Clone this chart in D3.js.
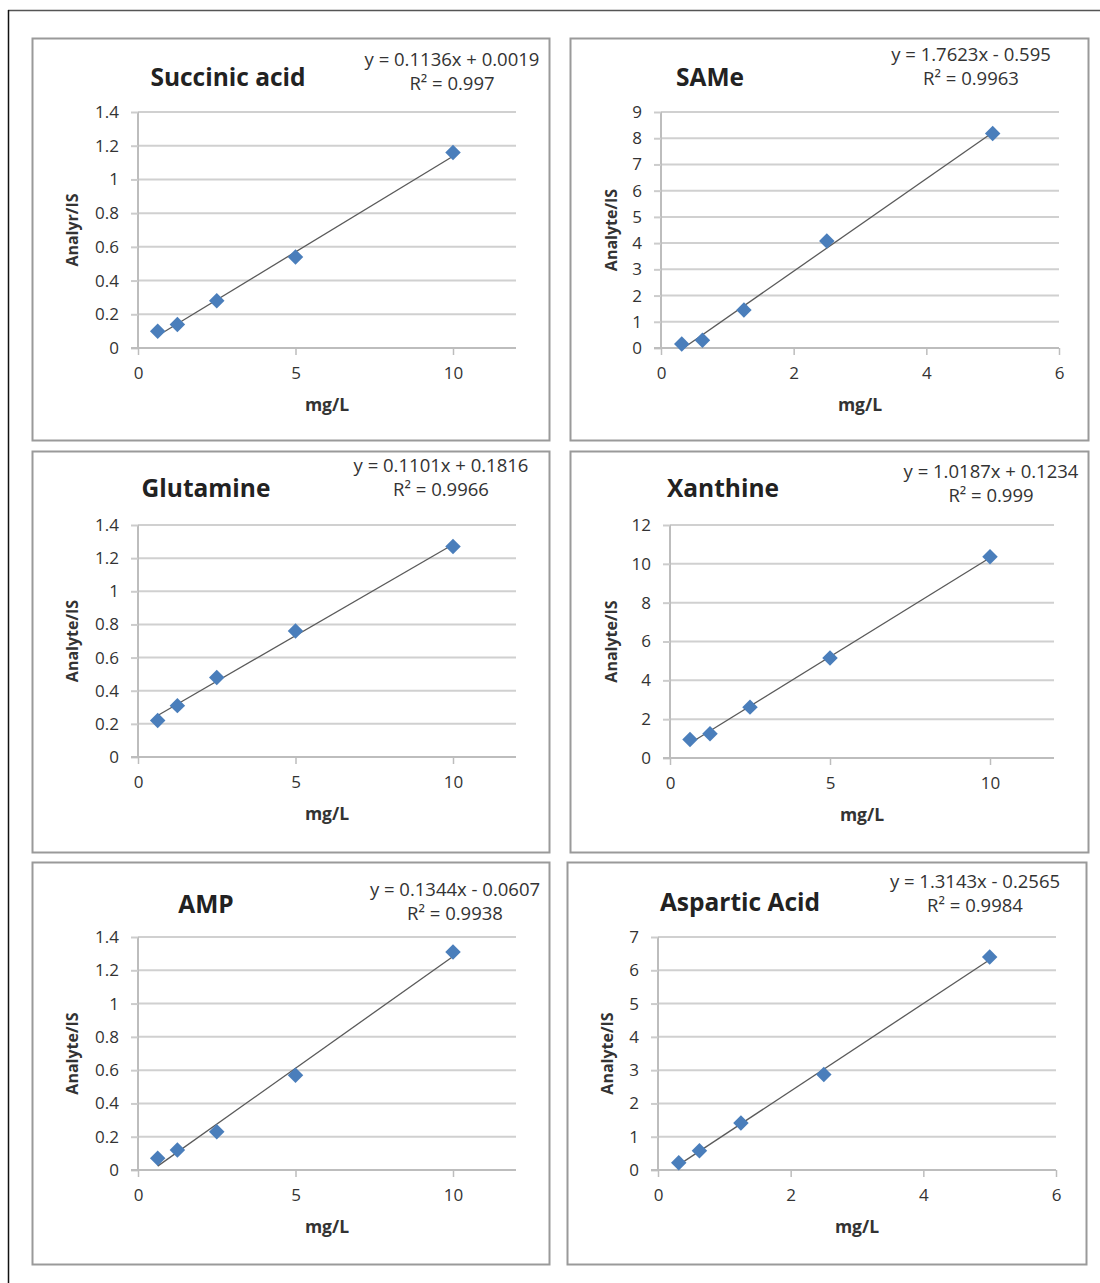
<!DOCTYPE html>
<html>
<head>
<meta charset="utf-8">
<script src="https://cdn.jsdelivr.net/npm/d3@7"></script>
<style>
  html, body { margin: 0; padding: 0; background: #fff; }
  svg { display: block; font-family: "Open Sans", Lato, sans-serif; }
</style>
</head>
<body>
<svg id="chart" width="1100" height="1283"></svg>
<script>
// Calibration curves: analyte / internal-standard ratio versus concentration (mg/L)
const titles = ["Succinic acid", "SAMe", "Glutamine", "Xanthine", "AMP", "Aspartic Acid"];
const yAxisTitles = ["Analyr/IS", "Analyte/IS", "Analyte/IS", "Analyte/IS", "Analyte/IS", "Analyte/IS"];
const xAxisTitle = "mg/L";

// concentration levels
const concHigh = [0.625, 1.25, 2.5, 5, 10];
const concLow = [0.3125, 0.625, 1.25, 2.5, 5];

// measured response ratios
const succinicRatio = [0.10, 0.14, 0.28, 0.54, 1.16];
const sameRatio = [0.15, 0.30, 1.45, 4.08, 8.18];
const glutamineRatio = [0.22, 0.31, 0.48, 0.76, 1.27];
const xanthineRatio = [0.95, 1.25, 2.62, 5.15, 10.36];
const ampRatio = [0.07, 0.12, 0.23, 0.57, 1.31];
const asparticRatio = [0.22, 0.58, 1.41, 2.87, 6.40];

// least-squares fits
const slopes = [0.1136, 1.7623, 0.1101, 1.0187, 0.1344, 1.3143];
const intercepts = [0.0019, -0.595, 0.1816, 0.1234, -0.0607, -0.2565];
const r2Values = ["0.997", "0.9963", "0.9966", "0.999", "0.9938", "0.9984"];

// axis extents and tick steps
const xMax = [12, 6, 12, 12, 12, 6];
const xTickValues = [[0, 5, 10], [0, 2, 4, 6], [0, 5, 10], [0, 5, 10], [0, 5, 10], [0, 2, 4, 6]];
const yMax = [1.4, 9, 1.4, 12, 1.4, 7];
const yStep = [0.2, 1, 0.2, 2, 0.2, 1];

const concentrations = [concHigh, concLow, concHigh, concHigh, concHigh, concLow];
const ratios = [succinicRatio, sameRatio, glutamineRatio, xanthineRatio, ampRatio, asparticRatio];

// panel frames and plot-area placement (page pixels)
const layout = [
  { box: [32, 38, 549, 440],  plot: [138, 112, 516, 348],  title: [228, 86],  eq: [452, 66],  yt: 72 },
  { box: [570, 38, 1088, 440], plot: [661, 112, 1059, 348], title: [710, 86],  eq: [971, 61],  yt: 611 },
  { box: [32, 451, 549, 852], plot: [138, 525, 516, 757],  title: [206, 497], eq: [441, 472], yt: 72 },
  { box: [570, 451, 1088, 852], plot: [670, 525, 1054, 758], title: [723, 497], eq: [991, 478], yt: 611 },
  { box: [32, 862, 549, 1264], plot: [138, 937, 516, 1170], title: [206, 913], eq: [455, 896], yt: 72 },
  { box: [567, 862, 1086, 1264], plot: [658, 937, 1056, 1170], title: [740, 911], eq: [975, 888], yt: 607 }
];

const svg = d3.select("#chart");

// page frame
svg.append("line").attr("x1", 8).attr("y1", 10.5).attr("x2", 1100).attr("y2", 10.5)
  .attr("stroke", "#555").attr("stroke-width", 1.5);
svg.append("line").attr("x1", 8.5).attr("y1", 10).attr("x2", 8.5).attr("y2", 1283)
  .attr("stroke", "#111").attr("stroke-width", 1.5);

const fmtEq = (m, b) => {
  const sign = b < 0 ? " - " : " + ";
  return "y = " + String(m) + "x" + sign + String(Math.abs(b));
};

const tickFont = 17;

titles.forEach((title, i) => {
  const L = layout[i];
  const [bx0, by0, bx1, by1] = L.box;
  const [px0, py0, px1, py1] = L.plot;
  const g = svg.append("g");

  // chart frame
  g.append("rect")
    .attr("x", bx0 + 0.5).attr("y", by0 + 0.5)
    .attr("width", bx1 - bx0).attr("height", by1 - by0)
    .attr("fill", "#fff").attr("stroke", "#9a9a9a").attr("stroke-width", 2);

  const x = d3.scaleLinear().domain([0, xMax[i]]).range([px0, px1]);
  const y = d3.scaleLinear().domain([0, yMax[i]]).range([py1, py0]);
  const yTicks = d3.range(0, yMax[i] + yStep[i] / 2, yStep[i]).map(v => +v.toFixed(3));

  // horizontal gridlines
  g.append("g").selectAll("line").data(yTicks.filter(v => v > 0)).join("line")
    .attr("x1", px0).attr("x2", px1)
    .attr("y1", d => y(d)).attr("y2", d => y(d))
    .attr("stroke", "#d0d0d0").attr("stroke-width", 2);

  // y axis
  const yAxis = g.append("g").attr("transform", `translate(${px0},0)`)
    .call(d3.axisLeft(y).tickValues(yTicks).tickSize(7).tickPadding(12)
      .tickFormat(d3.format("~g")));
  yAxis.select(".domain").attr("stroke", "#bdbdbd").attr("stroke-width", 2)
    .attr("d", `M0,${py0}V${py1}`);
  yAxis.selectAll(".tick line").attr("stroke", "#cccccc").attr("stroke-width", 2);
  yAxis.selectAll(".tick text").attr("fill", "#333").attr("font-size", tickFont)
    .attr("font-family", "'Open Sans', sans-serif");

  // x axis
  const xAxis = g.append("g").attr("transform", `translate(0,${py1})`)
    .call(d3.axisBottom(x).tickValues(xTickValues[i]).tickSize(7).tickPadding(12)
      .tickFormat(d3.format("~g")));
  xAxis.select(".domain").attr("stroke", "#bdbdbd").attr("stroke-width", 2)
    .attr("d", `M${px0 - 7},0H${px1}`);
  xAxis.selectAll(".tick line").attr("stroke", "#bdbdbd").attr("stroke-width", 1.5);
  xAxis.selectAll(".tick text").attr("fill", "#333").attr("font-size", tickFont)
    .attr("font-family", "'Open Sans', sans-serif");

  // linear trendline over the measured range
  const xs = concentrations[i];
  const x0 = d3.min(xs), x1 = d3.max(xs);
  g.append("line")
    .attr("x1", x(x0)).attr("y1", y(slopes[i] * x0 + intercepts[i]))
    .attr("x2", x(x1)).attr("y2", y(slopes[i] * x1 + intercepts[i]))
    .attr("stroke", "#5a5a5a").attr("stroke-width", 1.3);

  // data markers (diamonds)
  const diamond = d3.symbol().type(d3.symbolSquare).size(120);
  g.append("g").selectAll("path").data(xs.map((c, k) => [c, ratios[i][k]])).join("path")
    .attr("d", diamond)
    .attr("transform", d => `translate(${x(d[0])},${y(d[1])}) rotate(45)`)
    .attr("fill", "#4a7ebb");

  // chart title
  g.append("text").attr("x", L.title[0]).attr("y", L.title[1])
    .attr("text-anchor", "middle").attr("font-size", 24.5).attr("font-weight", "bold")
    .attr("fill", "#222").text(title);

  // regression equation and R²
  const eq = g.append("text").attr("text-anchor", "middle").attr("font-size", 18.5)
    .attr("fill", "#333");
  eq.append("tspan").attr("x", L.eq[0]).attr("y", L.eq[1]).text(fmtEq(slopes[i], intercepts[i]));
  eq.append("tspan").attr("x", L.eq[0]).attr("y", L.eq[1] + 24).text("R² = " + r2Values[i]);

  // axis titles
  g.append("text").attr("x", (px0 + px1) / 2).attr("y", py1 + 63)
    .attr("text-anchor", "middle").attr("font-size", 17.5).attr("font-weight", "bold")
    .attr("fill", "#333").text(xAxisTitle);
  g.append("text")
    .attr("transform", `translate(${L.yt + 6},${(py0 + py1) / 2}) rotate(-90)`)
    .attr("text-anchor", "middle").attr("font-size", 16).attr("font-weight", "bold")
    .attr("fill", "#333").text(yAxisTitles[i]);
});
</script>
</body>
</html>
